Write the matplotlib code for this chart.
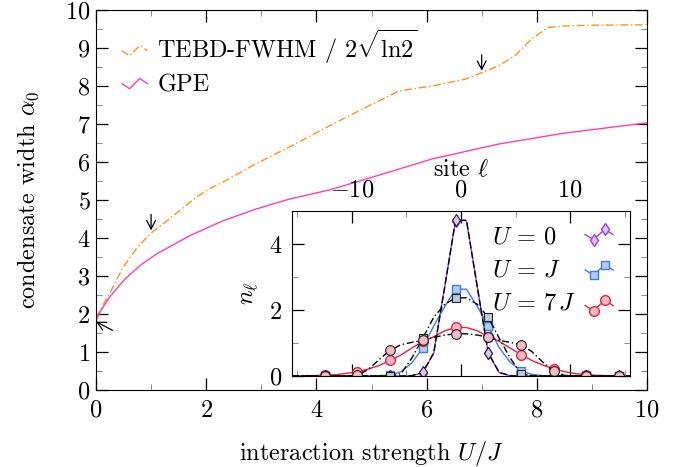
import numpy as np
import matplotlib
matplotlib.use("Agg")
import matplotlib.pyplot as plt
from matplotlib.legend_handler import HandlerLine2D
from matplotlib.lines import Line2D

plt.rcParams['font.family'] = 'serif'
plt.rcParams['font.serif'] = ['cmr10']
plt.rcParams['mathtext.fontset'] = 'cm'
plt.rcParams['axes.formatter.use_mathtext'] = True
plt.rcParams['font.size'] = 17.5

# largeur du condensat en fonction de U/J
U_tebd = [0, 0.25, 0.5, 0.75, 1.0, 1.35, 1.7, 2.0, 2.3, 2.9, 3.5, 4.3, 4.9, 5.5,
          6.1, 6.7, 7.0, 7.3, 7.6, 7.9, 8.2, 8.5, 9.0, 10.0]
alpha_tebd = [1.9, 2.55, 3.25, 3.75, 4.13, 4.52, 4.94, 5.25, 5.47, 5.95, 6.39, 7.0,
              7.44, 7.87, 8.0, 8.18, 8.35, 8.53, 8.79, 9.23, 9.54, 9.58, 9.60, 9.61]

U_gpe = [0, 0.05, 0.1, 0.25, 0.5, 0.8, 1.1, 1.7, 2.3, 2.9, 3.5, 4.25, 4.9, 6.1, 7.3, 8.5, 10.0]
alpha_gpe = [1.82, 1.98, 2.12, 2.45, 2.88, 3.28, 3.58, 4.06, 4.45, 4.76, 5.02, 5.27, 5.55,
             6.08, 6.47, 6.76, 7.03]

# fleches (pointe, queue)
arrows = [((0.0, 1.8), (0.3, 1.57)), ((1.0, 4.2), (1.0, 4.62)), ((7.0, 8.4), (7.0, 8.82))]

# profils de densite (encart)
sites = np.arange(-15.5, 16.0, 1.0)
n_U0 = [0, 0, 0, 0, 0, 0, 0, 0, 0, 0, 0, 0.01, 0.10, 0.69, 2.70, 4.71,
        4.71, 2.70, 0.69, 0.10, 0.01, 0, 0, 0, 0, 0, 0, 0, 0, 0, 0, 0]
n_U0_b = [0, 0, 0, 0, 0, 0, 0, 0, 0, 0, 0, 0.01, 0.11, 0.70, 2.68, 4.72,
          4.72, 2.68, 0.70, 0.11, 0.01, 0, 0, 0, 0, 0, 0, 0, 0, 0, 0, 0]
n_UJ = [0, 0, 0, 0, 0, 0, 0, 0, 0.01, 0.03, 0.13, 0.40, 0.85, 1.52, 2.10, 2.63,
        2.63, 2.10, 1.52, 0.86, 0.42, 0.16, 0.05, 0.01, 0, 0, 0, 0, 0, 0, 0, 0]
n_UJ_b = [0, 0, 0, 0, 0, 0, 0, 0, 0, 0.01, 0.07, 0.55, 1.15, 1.78, 2.17, 2.37,
          2.37, 2.17, 1.78, 1.15, 0.55, 0.07, 0.01, 0, 0, 0, 0, 0, 0, 0, 0, 0]
n_U7 = [0, 0.01, 0.01, 0.03, 0.04, 0.08, 0.13, 0.21, 0.32, 0.47, 0.64, 0.85, 1.05, 1.19, 1.37, 1.47,
        1.47, 1.37, 1.19, 1.05, 0.85, 0.65, 0.47, 0.33, 0.22, 0.13, 0.07, 0.04, 0.02, 0.01, 0.01, 0]
n_U7_b = [0, 0, 0, 0, 0, 0, 0.02, 0.20, 0.50, 0.78, 0.95, 1.02, 1.08, 1.17, 1.24, 1.28,
          1.28, 1.24, 1.17, 1.08, 1.02, 0.95, 0.74, 0.42, 0.14, 0.02, 0, 0, 0, 0, 0, 0]
labels_inset = [r'$U\,=\,0$', r'$U\,=\,J$', r'$U\,=\,7\,J$']

ORANGE = '#ff9412'
PINK = '#ff3fb4'
PURPLE = '#9a3cf0'
BLUE = '#3f7be6'
RED = '#e8223f'


class ZigZag(HandlerLine2D):
    # petite ligne en zigzag comme dans gnuplot
    def create_artists(self, legend, orig_handle, xdescent, ydescent, width, height, fontsize, trans):
        x = np.array([0, 0.3, 0.7, 1.0]) * width - xdescent
        y = np.array([0.45, 0.15, 0.75, 0.45]) * height - ydescent
        line = Line2D(x, y)
        self.update_prop(line, orig_handle, legend)
        line.set_markevery([1, 2])
        line.set_transform(trans)
        return [line]


fig = plt.figure(figsize=(6.89, 4.67), dpi=100)
ax = fig.add_axes([96 / 689, 1 - 390 / 467, 551 / 689, 380 / 467])

ax.plot(U_tebd, alpha_tebd, color=ORANGE, lw=1.0, dashes=(5.5, 2, 1, 2),
        label=r'TEBD-FWHM / $2\sqrt{\mathrm{ln}2}$')
ax.plot(U_gpe, alpha_gpe, color=PINK, lw=1.0, label='GPE')
for head, tail in arrows:
    ax.annotate('', xy=head, xytext=tail,
                arrowprops=dict(arrowstyle='->,head_length=0.35,head_width=0.18', lw=0.9, color='k',
                                shrinkA=0, shrinkB=0))

ax.set_xlim(0, 10)
ax.set_ylim(0, 10)
ax.set_xticks(range(0, 11, 2))
ax.set_xticks(range(1, 10, 2), minor=True)
ax.set_yticks(range(0, 11))
ax.set_yticks(np.arange(0.5, 10, 1), minor=True)
ax.tick_params(which='both', direction='in', top=True, right=True)
ax.tick_params(which='major', length=8.5, width=0.9)
ax.tick_params(axis='x', which='major', pad=7)
ax.tick_params(axis='y', which='major', pad=4)
ax.tick_params(which='minor', length=4.5, width=0.6, color='#777777')
ax.set_xlabel(r'interaction strength $U/J$', labelpad=12)
ax.set_ylabel(r'condensate width $\alpha_0$', labelpad=17)
ax.legend(loc='upper left', bbox_to_anchor=(0.047, 0.953), frameon=False, borderpad=0,
          borderaxespad=0, handlelength=1.05, handletextpad=0.4, labelspacing=0.32,
          handler_map={Line2D: ZigZag()})

# encart
ins = fig.add_axes([292 / 689, 1 - 376 / 467, 338 / 689, 165 / 467])
h0, = ins.plot(sites, n_U0, color=PURPLE, lw=1.0, marker='d', ms=6, mfc='#dcc4f4', mec=PURPLE,
               markevery=(3, 3))
h1, = ins.plot(sites, n_UJ, color=BLUE, lw=1.0, marker='s', ms=6, mfc='#b4ccf2', mec=BLUE,
               markevery=(3, 3))
h2, = ins.plot(sites, n_U7, color=RED, lw=1.0, marker='o', ms=7, mfc='#f6b8c2', mec=RED,
               markevery=(3, 3))
ins.plot(sites, n_U0_b, color='k', lw=1.0, dashes=(5, 2), marker='d', ms=6, mfc='#dcc4f4',
         mec='#222222', mew=0.8, markevery=(3, 3))
ins.plot(sites, n_UJ_b, color='k', lw=1.0, dashes=(5, 2, 1, 2), marker='s', ms=6, mfc='#bccbe0',
         mec='#222222', mew=0.8, markevery=(3, 3))
ins.plot(sites, n_U7_b, color='k', lw=1.0, dashes=(5, 2, 1, 2), marker='o', ms=7, mfc='#f2bcc4',
         mec='#222222', mew=0.8, markevery=(3, 3))

ins.set_xlim(-15.5, 15.5)
ins.set_ylim(0, 5)
ins.set_xticks([-10, 0, 10])
ins.set_xticks([-15, -5, 5, 15], minor=True)
ins.set_yticks([0, 2, 4])
ins.set_yticks([1, 3, 5], minor=True)
ins.tick_params(which='both', direction='in', top=True, right=True, bottom=True,
                labeltop=True, labelbottom=False)
ins.tick_params(which='major', length=8.5, width=0.9, pad=7)
ins.tick_params(which='minor', length=4.5, width=0.6, color='#777777')
ins.xaxis.set_label_position('top')
ins.set_xlabel(r'site $\ell$', labelpad=2)
ins.set_ylabel(r'$n_\ell$', labelpad=6)

# legende : texte aligne a gauche, symboles a droite
ins.legend([h0, h1, h2], [' ', ' ', ' '], loc='upper right', bbox_to_anchor=(0.95, 0.915),
           frameon=False, borderpad=0, borderaxespad=0, markerfirst=False, handlelength=1.15,
           handletextpad=0, labelspacing=0.55, handler_map={Line2D: ZigZag()})
for i, lab in enumerate(labels_inset):
    ins.text(0.592, 0.842 - 0.2 * i, lab, transform=ins.transAxes, ha='left', va='center')

fig.savefig('out.png', dpi=100)
